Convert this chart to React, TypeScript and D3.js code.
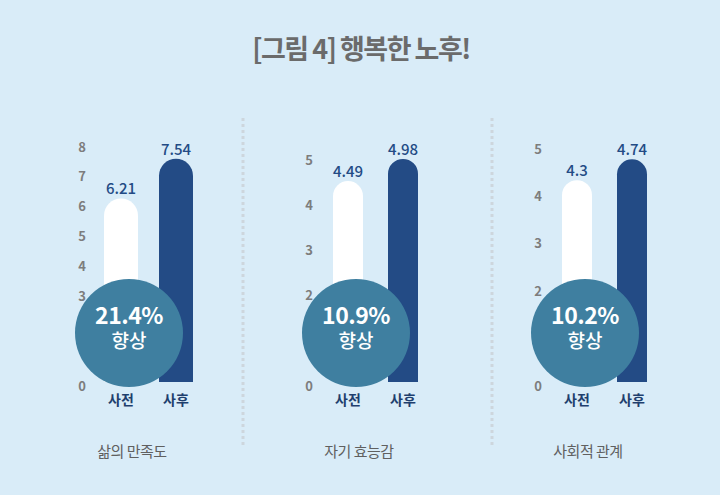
import React from "react";
import * as d3 from "d3";

const title = "[그림 4] 행복한 노후!";
const panelTitles = ["삶의 만족도", "자기 효능감", "사회적 관계"];
const groups = ["사전", "사후"];
const beforeValues = [6.21, 4.49, 4.3];
const afterValues = [7.54, 4.98, 4.74];
const axisMax = [8, 5, 5];
const tickLabels = [
  [0, 3, 4, 5, 6, 7, 8],
  [0, 2, 3, 4, 5],
  [0, 2, 3, 4, 5],
];
const improvements = ["21.4%", "10.9%", "10.2%"];
const improveLabel = "향상";

const W = 720;
const H = 495;
const FONT = "'Noto Sans CJK KR', 'Noto Sans', sans-serif";
const BG = "#d9ecf8";
const NAVY = "#234b85";
const CIRCLE = "#3f7fa0";

const panelX = [0, 227, 456];
const panelTop = [145, 158, 147];
const barW = [34, 30, 30];
const y0 = 384;

function barPath(cx: number, w: number, top: number, bottom: number) {
  const r = w / 2;
  const x0 = cx - r;
  const x1 = cx + r;
  return `M${x0},${bottom}L${x0},${top + r}A${r},${r} 0 0 1 ${x1},${top + r}L${x1},${bottom}Z`;
}

function Panel({ i }: { i: number }) {
  const ox = panelX[i];
  const y = d3.scaleLinear().domain([0, axisMax[i]]).range([y0, panelTop[i]]);
  const x = d3.scalePoint<string>().domain(groups).range([ox + 121, ox + 176]);
  const ticks = tickLabels[i];
  const vals = [beforeValues[i], afterValues[i]];
  const fills = ["#ffffff", NAVY];
  const cx = (x("사전") as number) + 8;
  const cy = 333;
  return (
    <g>
      {ticks.map((t) => (
        <text
          key={t}
          x={ox + 82}
          y={y(t) + 1}
          textAnchor="middle"
          dominantBaseline="central"
          fontSize={13}
          fontWeight={700}
          fill="#7d7d7d"
          fontFamily={FONT}
        >
          {t}
        </text>
      ))}
      {groups.map((g, j) => (
        <g key={g}>
          <path d={barPath(x(g) as number, barW[i], y(vals[j]), y0 - 2)} fill={fills[j]} />
          <text
            x={x(g) as number}
            y={y(vals[j]) - 4}
            textAnchor="middle"
            fontSize={15}
            fontWeight={500}
            fill={NAVY}
            fontFamily={FONT}
          >
            {vals[j]}
          </text>
          <text
            x={x(g) as number}
            y={405}
            textAnchor="middle"
            fontSize={14}
            fontWeight={700}
            fill="#1f3f6e"
            fontFamily={FONT}
          >
            {g}
          </text>
        </g>
      ))}
      <circle cx={cx} cy={cy} r={54} fill={CIRCLE} />
      <text
        x={cx}
        y={324}
        textAnchor="middle"
        fontSize={23}
        fontWeight={700}
        fill="#ffffff"
        fontFamily={FONT}
        letterSpacing={-0.5}
      >
        {improvements[i]}
      </text>
      <text
        x={cx}
        y={348}
        textAnchor="middle"
        fontSize={19}
        fontWeight={500}
        fill="#ffffff"
        fontFamily={FONT}
      >
        {improveLabel}
      </text>
      <text
        x={ox + 132}
        y={457}
        textAnchor="middle"
        fontSize={15}
        fontWeight={400}
        fill="#606060"
        fontFamily={FONT}
        letterSpacing={-0.5}
      >
        {panelTitles[i]}
      </text>
    </g>
  );
}

export default function App() {
  return (
    <svg
      width={W}
      height={H}
      style={{ position: "absolute", left: 0, top: 0 }}
      xmlns="http://www.w3.org/2000/svg"
    >
      <rect x={0} y={0} width={W} height={H} fill={BG} />
      <text
        x={361}
        y={59}
        textAnchor="middle"
        fontSize={27}
        fontWeight={700}
        fill="#6b6b6b"
        fontFamily={FONT}
        letterSpacing={-1.5}
      >
        {title}
      </text>
      {[243, 492].map((sx) => (
        <line
          key={sx}
          x1={sx}
          x2={sx}
          y1={118}
          y2={445}
          stroke="#cdd6dd"
          strokeWidth={3}
          strokeDasharray="3 3"
        />
      ))}
      {[0, 1, 2].map((i) => (
        <Panel key={i} i={i} />
      ))}
    </svg>
  );
}
